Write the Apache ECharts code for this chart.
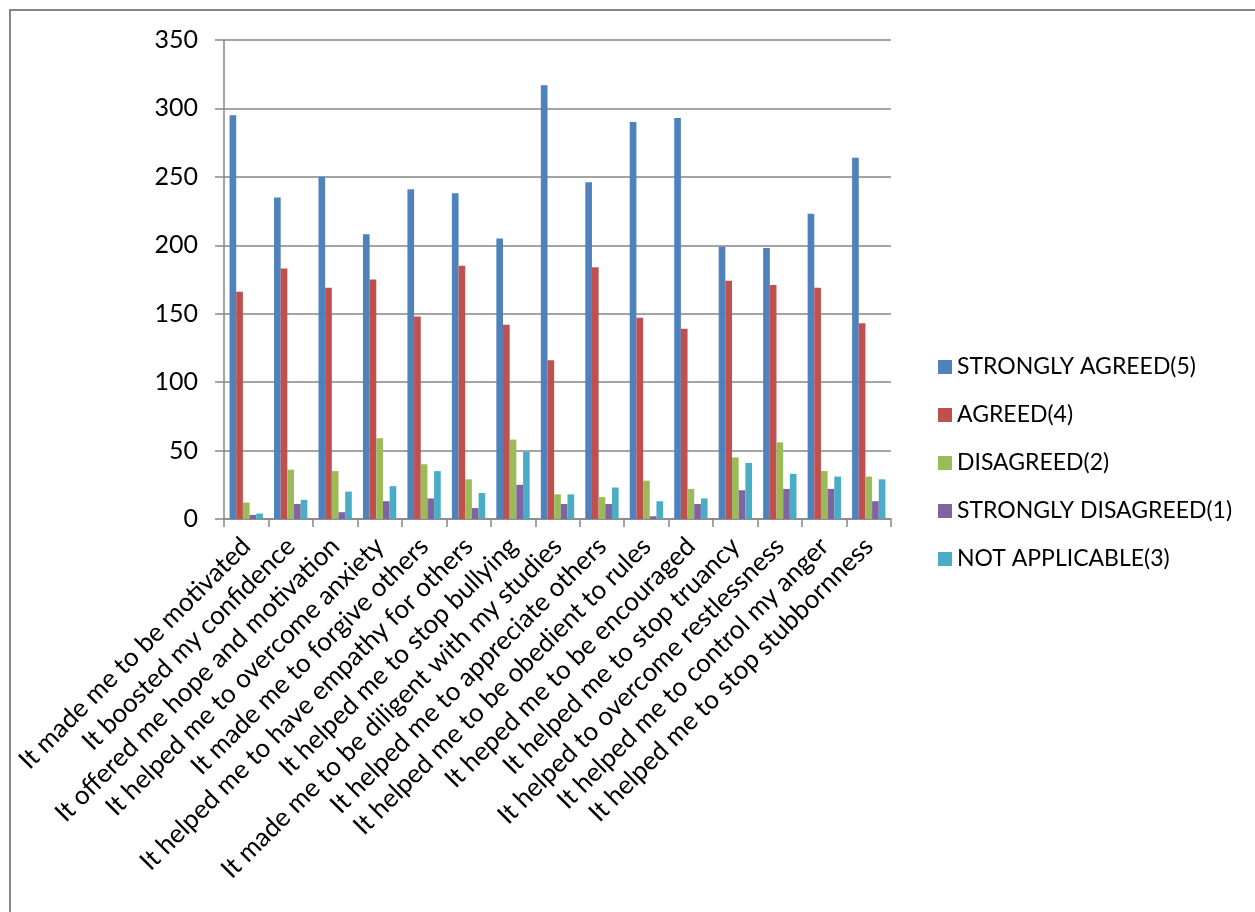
<!DOCTYPE html>
<html>
<head>
<meta charset="utf-8">
<script src="https://cdn.jsdelivr.net/npm/echarts@6/dist/echarts.min.js"></script>
<style>
html,body{margin:0;padding:0;background:#fff;}
#chart{width:1255px;height:912px;}
</style>
</head>
<body>
<div id="chart"></div>
<script>
const categories = [
  "It made me to be motivated",
  "It boosted my confidence",
  "It offered me hope and motivation",
  "It helped me to overcome anxiety",
  "It made me to forgive others",
  "It helped me to have empathy for others",
  "It helped me to stop bullying",
  "It made me to be diligent with my studies",
  "It helped me to appreciate others",
  "It helped me to be obedient to rules",
  "It heped me to be encouraged",
  "It helped me to stop truancy",
  "It helped to overcome restlessness",
  "It helped me to control my anger",
  "It helped me to stop stubbornness"
];
const seriesNames = ["STRONGLY AGREED(5)", "AGREED(4)", "DISAGREED(2)", "STRONGLY DISAGREED(1)", "NOT APPLICABLE(3)"];
const stronglyAgreed = [295, 235, 250, 208, 241, 238, 205, 317, 246, 290, 293, 199, 198, 223, 264];
const agreed = [166, 183, 169, 175, 148, 185, 142, 116, 184, 147, 139, 174, 171, 169, 143];
const disagreed = [12, 36, 35, 59, 40, 29, 58, 18, 16, 28, 22, 45, 56, 35, 31];
const stronglyDisagreed = [3, 11, 5, 13, 15, 8, 25, 11, 11, 2, 11, 21, 22, 22, 13];
const notApplicable = [4, 14, 20, 24, 35, 19, 49, 18, 23, 13, 15, 41, 33, 31, 29];
const yTicks = [0, 50, 100, 150, 200, 250, 300, 350];

const colors = ["#4F81BD", "#C0504D", "#9BBB59", "#8064A2", "#4BACC6"];
const values = [stronglyAgreed, agreed, disagreed, stronglyDisagreed, notApplicable];
const FONT = "Lato";

const chart = echarts.init(document.getElementById('chart'));
chart.setOption({
  animation: false,
  backgroundColor: '#fff',
  textStyle: { fontFamily: FONT },
  graphic: [{
    type: 'rect',
    shape: { x: 10, y: 10, width: 1300, height: 1000 },
    style: { fill: 'none', stroke: '#868686', lineWidth: 2 },
    silent: true
  }],
  grid: { left: 224, right: 364, top: 40, bottom: 393, containLabel: false },
  legend: {
    orient: 'vertical',
    left: 933,
    top: 350,
    itemWidth: 14,
    itemHeight: 14,
    itemGap: 24,
    icon: 'rect',
    textStyle: { fontFamily: FONT, fontSize: 23, color: '#000', lineHeight: 24 },
    data: seriesNames
  },
  xAxis: {
    type: 'category',
    data: categories,
    axisLine: { lineStyle: { color: '#868686', width: 1.5 } },
    axisTick: { show: true, length: 8, alignWithLabel: false, lineStyle: { color: '#868686', width: 1.5 } },
    axisLabel: { rotate: 45, interval: 0, fontFamily: FONT, fontSize: 26, color: '#000', margin: 23 }
  },
  yAxis: {
    type: 'value',
    min: 0,
    max: 350,
    interval: 50,
    axisLine: { show: true, lineStyle: { color: '#868686', width: 1.5 } },
    axisTick: { show: true, inside: false, length: 9, lineStyle: { color: '#868686', width: 1.5 } },
    splitLine: { show: true, lineStyle: { color: '#868686', width: 1.5 } },
    axisLabel: { fontFamily: FONT, fontSize: 25, color: '#000', margin: 26,
      formatter: v => yTicks.includes(v) ? String(v) : '' }
  },
  series: seriesNames.map((name, i) => ({
    name: name,
    type: 'bar',
    data: values[i],
    barGap: '0%',
    barCategoryGap: '25%',
    itemStyle: { color: colors[i] }
  }))
});
</script>
</body>
</html>
